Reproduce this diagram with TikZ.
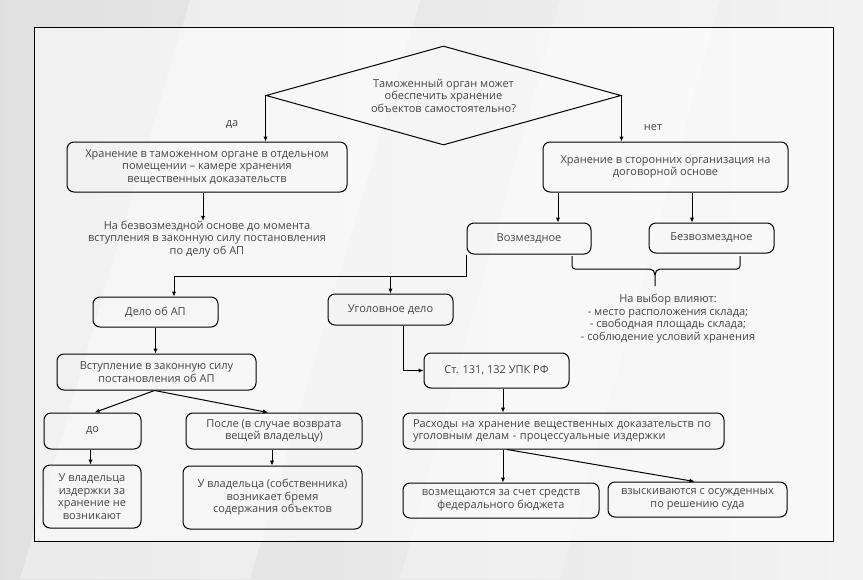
\documentclass[tikz,border=0pt]{standalone}
\usepackage{fontspec}
\setmainfont{Open Sans}
\usetikzlibrary{shapes.geometric,arrows.meta,calc}
\definecolor{txt}{HTML}{454545}
\begin{document}
\begin{tikzpicture}[x=1pt,y=-1pt,
  every node/.style={font=\fontsize{11}{12.5}\selectfont},
  box/.style={draw, rounded corners=7pt, line width=1pt, align=center, inner sep=2pt, text=txt},
  lbl/.style={align=center, text=txt, inner sep=0pt},
  arr/.style={line width=1pt, -{Latex[length=5pt,width=4.5pt]}},
  ln/.style={line width=1pt}]
\useasboundingbox (0,0) rectangle (863,579);
% background
\fill[left color=gray!24, right color=gray!10] (0,0) rectangle (863,579);
\fill[white, opacity=0.35] (190,0) -- (420,0) -- (250,579) -- (20,579) -- cycle;
\fill[white, opacity=0.25] (560,0) -- (720,0) -- (560,579) -- (400,579) -- cycle;
\fill[white, opacity=0.55] (34,27) rectangle (833,541);
\draw[line width=1pt] (34,27) rectangle (833,541);

% decision
\node[draw, diamond, line width=1pt, aspect=3.6, minimum width=355pt, minimum height=99pt, inner sep=0pt, lbl] (q) at (443.5,95.5)
  {Таможенный орган может\\обеспечить хранение\\объектов самостоятельно?};
\node[lbl] (yes) at (232,125) {да};
\node[lbl] (no) at (653,128) {нет};

\node[box, minimum width=280pt, minimum height=50pt] (h1) at (207,167)
  {Хранение в таможенном органе в отдельном\\помещении – камере хранения\\вещественных доказательств};
\node[box, minimum width=245pt, minimum height=50pt] (h2) at (665.5,167)
  {Хранение в сторонних организация на\\договорной основе};
\node[lbl] (t1) at (207,239)
  {На безвозмездной основе до момента\\вступления в законную силу постановления\\по делу об АП};

\node[box, minimum width=124pt, minimum height=31pt] (vozm) at (529,238.5) {Возмездное};
\node[box, minimum width=125pt, minimum height=30pt] (bezv) at (711.5,238) {Безвозмездное};
\node[lbl] (choice) at (668,318.5)
  {На выбор влияют:\\- место расположения склада;\\- свободная площадь склада;\\- соблюдение условий хранения};

\node[box, minimum width=125pt, minimum height=30pt] (delo) at (155.5,312) {Дело об АП};
\node[box, minimum width=125pt, minimum height=31pt] (ugol) at (390.5,309.5) {Уголовное дело};

\node[box, minimum width=199pt, minimum height=36pt] (vstup) at (156.5,372) {Вступление в законную силу\\постановления об АП};
\node[box, minimum width=97pt, minimum height=36pt] (do) at (92.5,431) {до};
\node[box, minimum width=176pt, minimum height=36pt] (posle) at (274,431) {После (в случае возврата\\вещей владельцу)};
\node[box, minimum width=98pt, minimum height=63pt] (vlad1) at (92,496.5) {У владельца\\издержки за\\хранение не\\возникают};
\node[box, minimum width=179pt, minimum height=63pt] (vlad2) at (272.5,497.5) {У владельца (собственника)\\возникает бремя\\содержания объектов};

\node[box, minimum width=145pt, minimum height=35pt] (st) at (496.5,370.5) {Ст. 131, 132 УПК РФ};
\node[box, text width=301pt, inner xsep=10pt, align=left, minimum height=36pt] (rash) at (563.5,431)
  {Расходы на хранение вещественных доказательств по\\уголовным делам - процессуальные издержки};
\node[box, minimum width=196pt, minimum height=35pt] (vozmesch) at (501,500.5) {возмещаются за счет средств\\федерального бюджета};
\node[box, minimum width=179pt, minimum height=35pt] (vzysk) at (697.5,499.5) {взыскиваются с осужденных\\по решению суда};

% connectors
\draw[arr] (q.west) -- (q.west |- h1.north);
\draw[arr] (q.east) -- (q.east |- h2.north);
\draw[arr] ([xshift=-4pt]h1.south) -- ([xshift=-4pt]h1.south |- t1.north);

\coordinate (xa) at (558,0);
\coordinate (xb) at (692,0);
\draw[arr] (xa |- h2.south) -- (xa |- vozm.north);
\draw[arr] (xb |- h2.south) -- (xb |- bezv.north);

% brace
\draw[ln] (572,256) -- (572,266) to[out=-90,in=180] (575,269) -- (650,269) to[out=0,in=90] (655,275) -- (655,286);
\draw[ln] (740,256) -- (740,266) to[out=-90,in=0] (737,269) -- (660,269) to[out=180,in=90] (655,275);

\coordinate (jd) at (174,276);
\draw[ln] (vozm.south west) |- (jd);
\draw[arr] (jd) -- (jd |- delo.north);
\draw[arr] (ugol.north |- jd) -- (ugol.north);

\draw[arr] (delo.south) -- (delo.south |- vstup.north);
\draw[arr] ([xshift=-2pt]vstup.south) -- ([xshift=2pt]do.north);
\draw[arr] ([xshift=-2pt]vstup.south) -- ([xshift=-6pt]posle.north);
\draw[arr] ([xshift=-2pt]do.south) -- ([xshift=-2pt]do.south |- vlad1.north);
\draw[arr] ([xshift=-2pt]posle.south) -- ([xshift=-2pt]posle.south |- vlad2.north);

\draw[arr] ([xshift=12.5pt]ugol.south) |- (st.west);
\draw[arr] ([xshift=6.5pt]st.south) -- ([xshift=6.5pt]st.south |- rash.north);
\draw[arr] ([xshift=2pt]vozmesch.north |- rash.south) -- ([xshift=2pt]vozmesch.north);
\draw[arr] ([xshift=6pt]vozmesch.north |- rash.south) -- ([xshift=-3pt]vzysk.north);
\end{tikzpicture}
\end{document}
